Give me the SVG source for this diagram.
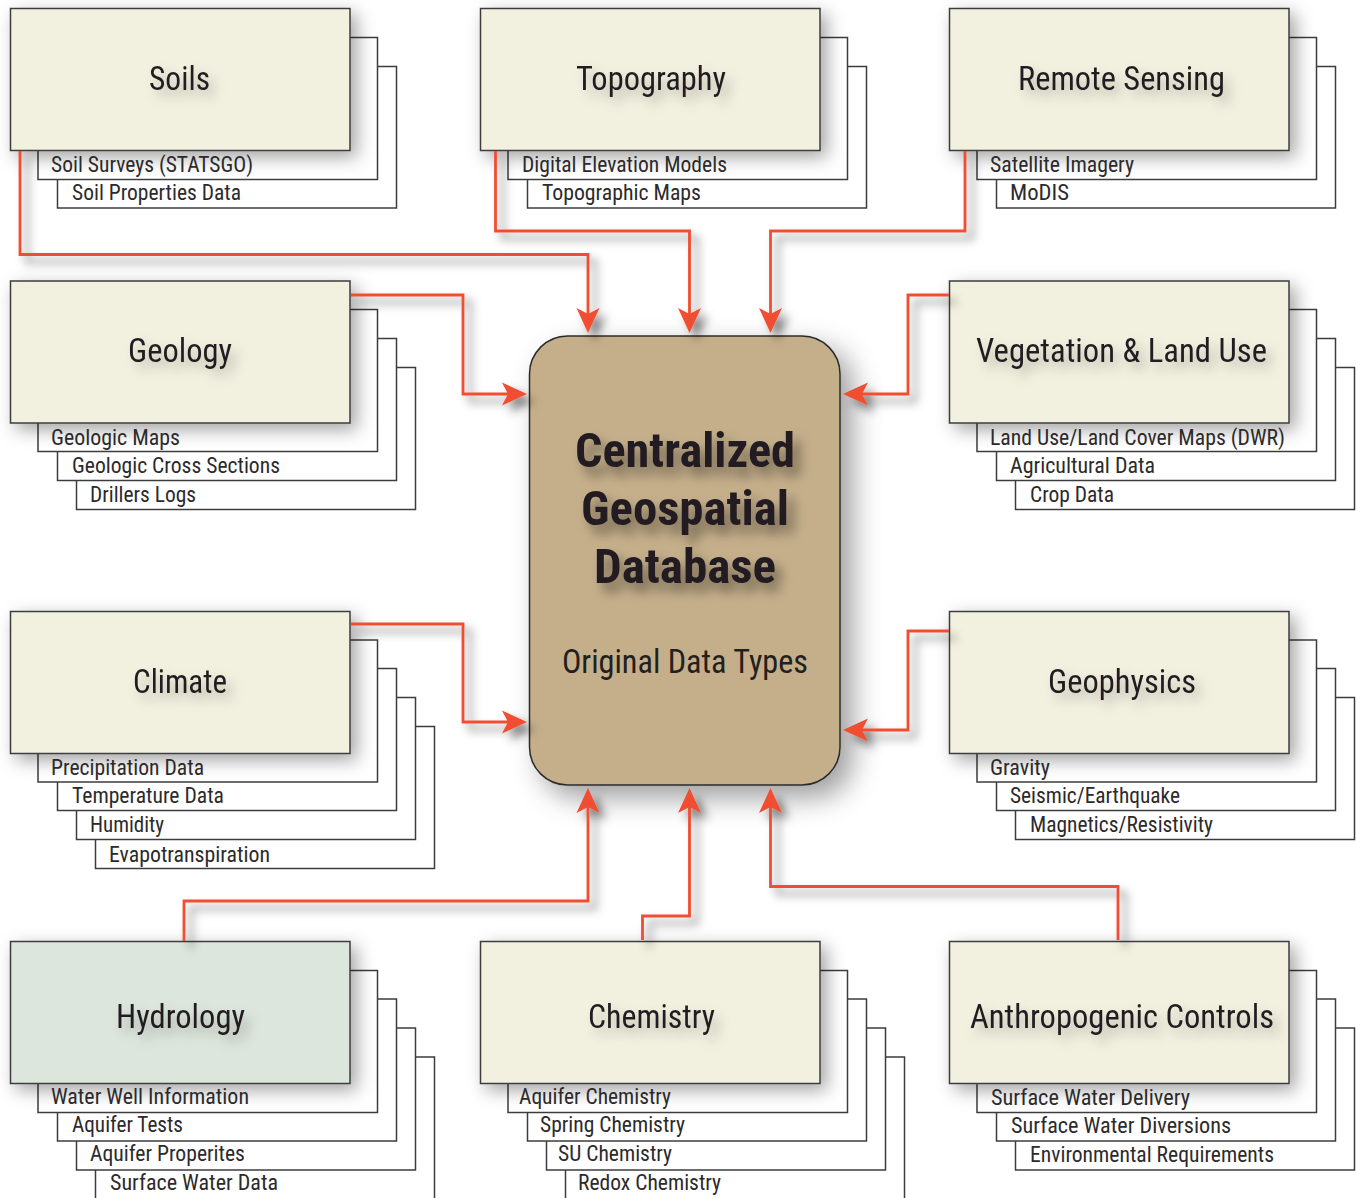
<svg xmlns="http://www.w3.org/2000/svg" width="1357" height="1198" viewBox="0 0 1357 1198">
<style>
text{font-family:"Liberation Sans Narrow","Roboto Condensed","Liberation Sans",sans-serif;fill:#231f20}
.s{fill:#fff;stroke:#3c3c3c;stroke-width:1.5}
.b{fill:#f2f0df;stroke:#3c3c3c;stroke-width:1.5;filter:url(#bs)}
.h{fill:#dde6dc}
.t{font-size:33px;filter:url(#ts);transform:translate(0,.6px)}
.l{font-size:22px;fill:#2c2a2b}
.c{font-size:48px;font-weight:700;filter:url(#ts2)}
.o{font-size:33px;transform:translate(0,.6px)}
.k{fill:none;stroke:#f04e30;stroke-width:2.8;marker-end:url(#a)}
</style>
<defs>
<filter id="bs" x="-12%" y="-20%" width="130%" height="145%"><feDropShadow dx="6" dy="6" stdDeviation="9" flood-color="#000" flood-opacity=".36"/></filter>
<filter id="cs" x="-20%" y="-12%" width="145%" height="130%"><feDropShadow dx="12" dy="12" stdDeviation="14" flood-color="#000" flood-opacity=".38"/></filter>
<filter id="ts" x="-20%" y="-60%" width="150%" height="260%"><feDropShadow dx="6" dy="7" stdDeviation="6" flood-color="#000" flood-opacity=".26"/></filter>
<filter id="ts2" x="-20%" y="-60%" width="150%" height="260%"><feDropShadow dx="7" dy="9" stdDeviation="6" flood-color="#000" flood-opacity=".42"/></filter>
<filter id="ls" filterUnits="userSpaceOnUse" x="0" y="0" width="1357" height="1198"><feDropShadow dx="7" dy="7" stdDeviation="5" flood-color="#000" flood-opacity=".5"/></filter>
<marker id="a" markerUnits="userSpaceOnUse" markerWidth="30" markerHeight="30" refX="0" refY="0" viewBox="-10 -12 30 24" orient="auto" overflow="visible"><path d="M-7,-11.500 L18,0 L-7,11.500 L-1,0 Z" fill="#f04e30"/></marker>
</defs>

<g id="soils">
<rect class="s" x="57.5" y="66.5" width="339" height="141.500"/><rect class="s" x="38" y="37.500" width="339.500" height="142"/>
<rect class="b" x="10.500" y="8.500" width="339.500" height="142"/>
<text class="t" x="149" y="89" textLength="61" lengthAdjust="spacingAndGlyphs">Soils</text>
<text class="l" x="51" y="172" textLength="202" lengthAdjust="spacingAndGlyphs">Soil Surveys (STATSGO)</text>
<text class="l" x="72" y="200" textLength="169" lengthAdjust="spacingAndGlyphs">Soil Properties Data</text>
</g>
<g id="topography">
<rect class="s" x="527.500" y="66.5" width="339" height="141.500"/><rect class="s" x="508" y="37.500" width="339.500" height="142"/>
<rect class="b" x="480.500" y="8.500" width="339.500" height="142"/>
<text class="t" x="576" y="89" textLength="150" lengthAdjust="spacingAndGlyphs">Topography</text>
<text class="l" x="522" y="172" textLength="205" lengthAdjust="spacingAndGlyphs">Digital Elevation Models</text>
<text class="l" x="542" y="200" textLength="159" lengthAdjust="spacingAndGlyphs">Topographic Maps</text>
</g>
<g id="remote-sensing">
<rect class="s" x="996.500" y="66.5" width="339" height="141.500"/><rect class="s" x="977" y="37.500" width="339.500" height="142"/>
<rect class="b" x="949.500" y="8.500" width="339.500" height="142"/>
<text class="t" x="1018" y="89" textLength="207" lengthAdjust="spacingAndGlyphs">Remote Sensing</text>
<text class="l" x="990" y="172" textLength="144" lengthAdjust="spacingAndGlyphs">Satellite Imagery</text>
<text class="l" x="1010" y="200" textLength="59" lengthAdjust="spacingAndGlyphs">MoDIS</text>
</g>
<g id="geology">
<rect class="s" x="76.500" y="367.500" width="339" height="142"/><rect class="s" x="57.500" y="338.500" width="339" height="142"/><rect class="s" x="38" y="309.500" width="339.500" height="142"/>
<rect class="b" x="10.500" y="281" width="339.500" height="142"/>
<text class="t" x="128" y="361" textLength="104" lengthAdjust="spacingAndGlyphs">Geology</text>
<text class="l" x="51" y="445" textLength="129" lengthAdjust="spacingAndGlyphs">Geologic Maps</text>
<text class="l" x="72" y="473" textLength="208" lengthAdjust="spacingAndGlyphs">Geologic Cross Sections</text>
<text class="l" x="90" y="502" textLength="106" lengthAdjust="spacingAndGlyphs">Drillers Logs</text>
</g>
<g id="vegetation">
<rect class="s" x="1015.500" y="367.500" width="339" height="142"/><rect class="s" x="996.500" y="338.500" width="339" height="142"/><rect class="s" x="977" y="309.500" width="339.500" height="142"/>
<rect class="b" x="949.500" y="281" width="339.500" height="142"/>
<text class="t" x="976" y="361" textLength="291" lengthAdjust="spacingAndGlyphs">Vegetation &amp; Land Use</text>
<text class="l" x="990" y="445" textLength="295" lengthAdjust="spacingAndGlyphs">Land Use/Land Cover Maps (DWR)</text>
<text class="l" x="1010" y="473" textLength="145" lengthAdjust="spacingAndGlyphs">Agricultural Data</text>
<text class="l" x="1030" y="502" textLength="84" lengthAdjust="spacingAndGlyphs">Crop Data</text>
</g>
<g id="climate">
<rect class="s" x="95.500" y="726.500" width="339" height="142"/><rect class="s" x="76.500" y="697.500" width="339" height="142"/><rect class="s" x="57.500" y="668.500" width="339" height="142"/><rect class="s" x="38" y="640" width="339.500" height="142"/>
<rect class="b" x="10.500" y="611.500" width="339.500" height="142"/>
<text class="t" x="133" y="692" textLength="94" lengthAdjust="spacingAndGlyphs">Climate</text>
<text class="l" x="51" y="775" textLength="153" lengthAdjust="spacingAndGlyphs">Precipitation Data</text>
<text class="l" x="72" y="803" textLength="152" lengthAdjust="spacingAndGlyphs">Temperature Data</text>
<text class="l" x="90" y="832" textLength="74" lengthAdjust="spacingAndGlyphs">Humidity</text>
<text class="l" x="109" y="862" textLength="161" lengthAdjust="spacingAndGlyphs">Evapotranspiration</text>
</g>
<g id="geophysics">
<rect class="s" x="1015.500" y="697.500" width="339" height="142"/><rect class="s" x="996.500" y="668.500" width="339" height="142"/><rect class="s" x="977" y="640" width="339.500" height="142"/>
<rect class="b" x="949.500" y="611.500" width="339.500" height="142"/>
<text class="t" x="1048" y="692" textLength="148" lengthAdjust="spacingAndGlyphs">Geophysics</text>
<text class="l" x="990" y="775" textLength="60" lengthAdjust="spacingAndGlyphs">Gravity</text>
<text class="l" x="1010" y="803" textLength="170" lengthAdjust="spacingAndGlyphs">Seismic/Earthquake</text>
<text class="l" x="1030" y="832" textLength="183" lengthAdjust="spacingAndGlyphs">Magnetics/Resistivity</text>
</g>
<g id="hydrology">
<rect class="s" x="95.500" y="1057" width="339" height="142"/><rect class="s" x="76.500" y="1028" width="339" height="142"/><rect class="s" x="57.500" y="999" width="339" height="142"/><rect class="s" x="38" y="970.500" width="339.500" height="142"/>
<rect class="b h" x="10.500" y="941.500" width="339.500" height="142"/>
<text class="t" x="116" y="1027" textLength="129" lengthAdjust="spacingAndGlyphs">Hydrology</text>
<text class="l" x="51" y="1104" textLength="198" lengthAdjust="spacingAndGlyphs">Water Well Information</text>
<text class="l" x="72" y="1132" textLength="111" lengthAdjust="spacingAndGlyphs">Aquifer Tests</text>
<text class="l" x="90" y="1161" textLength="155" lengthAdjust="spacingAndGlyphs">Aquifer Properites</text>
<text class="l" x="110" y="1190" textLength="168" lengthAdjust="spacingAndGlyphs">Surface Water Data</text>
</g>
<g id="chemistry">
<rect class="s" x="565.500" y="1057" width="339" height="142"/><rect class="s" x="546.500" y="1028" width="339" height="142"/><rect class="s" x="527.500" y="999" width="339" height="142"/><rect class="s" x="508" y="970.500" width="339.500" height="142"/>
<rect class="b" x="480.500" y="941.500" width="339.500" height="142"/>
<text class="t" x="588" y="1027" textLength="127" lengthAdjust="spacingAndGlyphs">Chemistry</text>
<text class="l" x="519" y="1104" textLength="152" lengthAdjust="spacingAndGlyphs">Aquifer Chemistry</text>
<text class="l" x="540" y="1132" textLength="145" lengthAdjust="spacingAndGlyphs">Spring Chemistry</text>
<text class="l" x="558" y="1161" textLength="114" lengthAdjust="spacingAndGlyphs">SU Chemistry</text>
<text class="l" x="578" y="1190" textLength="143" lengthAdjust="spacingAndGlyphs">Redox Chemistry</text>
</g>
<g id="anthropogenic">
<rect class="s" x="1015.500" y="1028" width="339" height="142"/><rect class="s" x="996.500" y="999" width="339" height="142"/><rect class="s" x="977" y="970.500" width="339.500" height="142"/>
<rect class="b" x="949.500" y="941.500" width="339.500" height="142"/>
<text class="t" x="970" y="1027" textLength="304" lengthAdjust="spacingAndGlyphs">Anthropogenic Controls</text>
<text class="l" x="991" y="1105" textLength="199" lengthAdjust="spacingAndGlyphs">Surface Water Delivery</text>
<text class="l" x="1011" y="1133" textLength="220" lengthAdjust="spacingAndGlyphs">Surface Water Diversions</text>
<text class="l" x="1030" y="1162" textLength="244" lengthAdjust="spacingAndGlyphs">Environmental Requirements</text>
</g>
<g id="database">
<rect x="529.500" y="336" width="310.500" height="449" rx="38" ry="38" fill="#c5af8b" stroke="#2b2b2b" stroke-width="1.500" filter="url(#cs)"/>
<text class="c" x="575" y="467" textLength="220" lengthAdjust="spacingAndGlyphs">Centralized</text>
<text class="c" x="581" y="525" textLength="208" lengthAdjust="spacingAndGlyphs">Geospatial</text>
<text class="c" x="594" y="583" textLength="182" lengthAdjust="spacingAndGlyphs">Database</text>
<text class="o" x="562" y="672" textLength="246" lengthAdjust="spacingAndGlyphs">Original Data Types</text>
</g>
<g id="connectors" filter="url(#ls)">
<path class="k" d="M20,151 V254.500 H588 V315"/>
<path class="k" d="M495.500,151 V231 H689.500 V315"/>
<path class="k" d="M965,151 V231 H770.500 V315"/>
<path class="k" d="M351,295 H463 V394 H509"/>
<path class="k" d="M949,295 H908 V394 H861"/>
<path class="k" d="M351,624 H463 V722 H509"/>
<path class="k" d="M949,631 H908 V730 H861"/>
<path class="k" d="M184,941 V901 H588 V806"/>
<path class="k" d="M642.500,940 V916 H689.500 V806"/>
<path class="k" d="M1118,940 V886.500 H770.500 V806"/>
</g>
</svg>
